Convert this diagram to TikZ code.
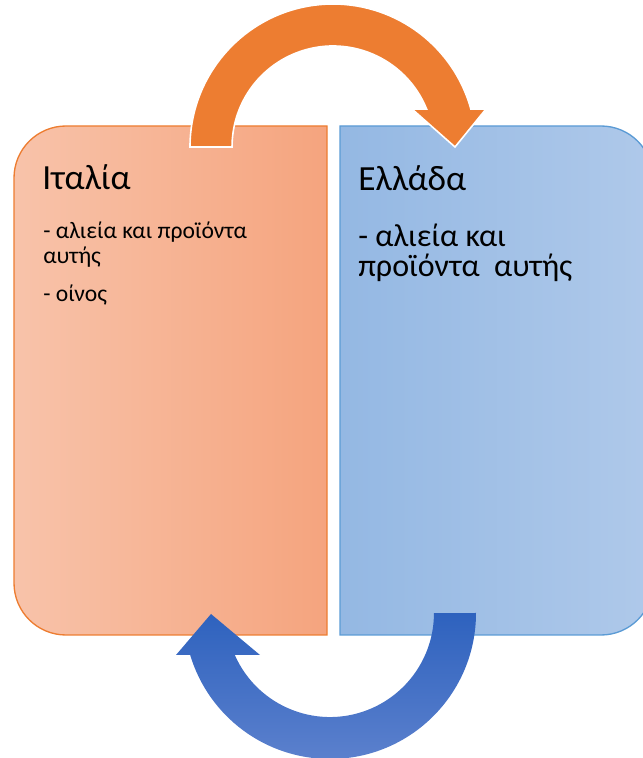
\documentclass[tikz,border=0pt]{standalone}
\usepackage{fontspec}
\setmainfont{Carlito}
\usepackage{xcolor}
\usepackage{tikz}
\usetikzlibrary{positioning, calc}
\definecolor{orangeL}{RGB}{248,195,170}
\definecolor{orangeR}{RGB}{245,164,126}
\definecolor{orangeLine}{RGB}{237,125,49}
\definecolor{blueL}{RGB}{148,184,227}
\definecolor{blueR}{RGB}{175,201,234}
\definecolor{blueLine}{RGB}{91,155,213}
\definecolor{arrowOrange}{RGB}{237,125,49}
\definecolor{arrowBlueT}{RGB}{46,98,190}
\definecolor{arrowBlueB}{RGB}{91,128,205}
\tikzset{
  panel/.style={line width=1pt},
  title text/.style={anchor=base west, inner sep=0pt, font=\fontsize{26.5}{30}\selectfont},
  small item/.style={anchor=north west, inner sep=0pt, align=left,
    font=\fontsize{17.7}{18.75}\selectfont},
  big item/.style={anchor=north west, inner sep=0pt, align=left,
    font=\fontsize{24}{22}\selectfont},
  cycle arrow/.style={line width=1.2pt, line join=miter},
}

\begin{document}
\begin{tikzpicture}[x=0.75pt, y=0.75pt]
  \useasboundingbox (0,0) rectangle (643,758);
  \clip (0,0) rectangle (643,758);

  % panels
  \shade[left color=orangeL, right color=orangeR]
    (327,632) -- (66,632) arc[start angle=90, end angle=180, radius=52]
    -- (14,175) arc[start angle=180, end angle=270, radius=52]
    -- (327,123) -- cycle;
  \draw[panel, draw=orangeLine]
    (327,632) -- (66,632) arc[start angle=90, end angle=180, radius=52]
    -- (14,175) arc[start angle=180, end angle=270, radius=52]
    -- (327,123) -- cycle;
  \shade[left color=blueL, right color=blueR]
    (340,632) -- (601,632) arc[start angle=90, end angle=0, radius=52]
    -- (653,175) arc[start angle=0, end angle=-90, radius=52]
    -- (340,123) -- cycle;
  \draw[panel, draw=blueLine]
    (340,632) -- (601,632) arc[start angle=90, end angle=0, radius=52]
    -- (653,175) arc[start angle=0, end angle=-90, radius=52]
    -- (340,123) -- cycle;

  % texts
  \node[title text] (italy) at (42,568) {Ιταλία};
  \node[small item] (italylist) at (43,536)
    {- αλιεία και προϊόντα\\αυτής\\[9.75pt]- οίνος};
  \node[title text] (greece) at (358,567) {Ελλάδα};
  \node[big item] (greecelist) at (358,534)
    {- αλιεία και\\προϊόντα\ \ αυτής};

  % arrows between the panels
  \draw[cycle arrow, fill=arrowOrange, draw=white]
    (190,611) arc[start angle=180, end angle=15.4, radius=143]
    -- (486,649) -- (455,611) -- (412,649) -- (426.6,649)
    arc[start angle=22.1, end angle=180, radius=101] -- cycle;
  \shade[top color=arrowBlueT, bottom color=arrowBlueB]
    (476,145) arc[start angle=0, end angle=-163.3, radius=146]
    -- (176,103) -- (211,144) -- (260,103) -- (234.8,103)
    arc[start angle=-156.2, end angle=0, radius=104] -- cycle;
\end{tikzpicture}
\end{document}
